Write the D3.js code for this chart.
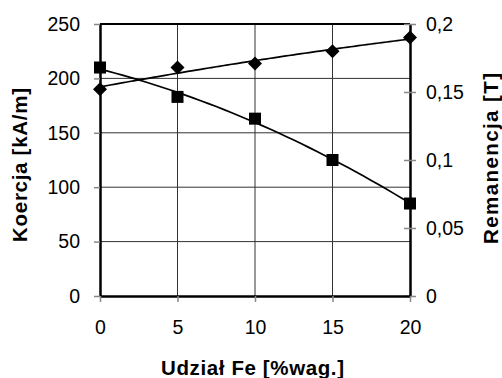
<!DOCTYPE html>
<html>
<head>
<meta charset="utf-8">
<script src="https://cdn.jsdelivr.net/npm/d3@7"></script>
<style>
  html, body { margin: 0; padding: 0; background: #fff; }
  svg { display: block; }
  text { font-family: "Liberation Sans", Arial, sans-serif; fill: #000; }
</style>
</head>
<body>
<svg id="chart" width="502" height="378"></svg>
<script>
// ---- data ----
const udzialFe = [0, 5, 10, 15, 20];
const koercja = [210, 183, 163, 125, 85];            // kA/m (left axis, squares)
const remanencja = [0.152, 0.168, 0.171, 0.180, 0.190]; // T (right axis, diamonds)
const xTicks = [0, 5, 10, 15, 20];
const leftTicks = [0, 50, 100, 150, 200, 250];
const rightTicks = [0, 0.05, 0.1, 0.15, 0.2];
const xTitle = "Udział Fe [%wag.]";
const leftTitle = "Koercja [kA/m]";
const rightTitle = "Remanencja [T]";

// ---- layout ----
const svg = d3.select("#chart");
const L = 100, R = 410, T = 24, B = 296;
const x = d3.scaleLinear().domain([0, 20]).range([L, R]);
const yL = d3.scaleLinear().domain([0, 250]).range([B, T]);
const yR = d3.scaleLinear().domain([0, 0.2]).range([B, T]);

// grid
const grid = svg.append("g");
grid.selectAll("line.h").data(leftTicks.filter(d => d > 0 && d < 250)).join("line")
  .attr("x1", L).attr("x2", R).attr("y1", d => yL(d)).attr("y2", d => yL(d))
  .attr("stroke", "#333").attr("stroke-width", 1);
grid.selectAll("line.v").data(xTicks.filter(d => d > 0 && d < 20)).join("line")
  .attr("y1", T).attr("y2", B).attr("x1", d => x(d)).attr("x2", d => x(d))
  .attr("stroke", "#333").attr("stroke-width", 1);

// top border
svg.append("line").attr("x1", L).attr("x2", R).attr("y1", T).attr("y2", T)
  .attr("stroke", "#000").attr("stroke-width", 2);

function styleAxis(g) {
  g.attr("font-family", null).attr("font-size", null);
  g.select(".domain").attr("stroke", "#000").attr("stroke-width", 2.5);
  g.selectAll(".tick line").attr("stroke", "#888").attr("stroke-width", 1.5);
  g.selectAll(".tick text").style("font-size", "19.5px").style("font-family", "'Liberation Sans', Arial, sans-serif").attr("fill", "#000");
}

const fmtComma = d => String(d).replace(".", ",");

svg.append("g").attr("transform", `translate(${L},0)`)
  .call(d3.axisLeft(yL).tickValues(leftTicks).tickSize(6).tickSizeOuter(0).tickPadding(14))
  .call(styleAxis);

const ra = svg.append("g").attr("transform", `translate(${R},0)`)
  .call(d3.axisRight(yR).tickValues(rightTicks).tickFormat(fmtComma).tickSize(6).tickSizeOuter(0).tickPadding(10))
  .call(styleAxis);
ra.selectAll(".tick line").attr("x1", -6).attr("x2", 6);

svg.append("g").attr("transform", `translate(0,${B})`)
  .call(d3.axisBottom(x).tickValues(xTicks).tickSize(6).tickSizeOuter(0).tickPadding(18.5))
  .call(styleAxis);

// quadratic least-squares trendline (derived from the data)
function quadFit(xs, ys) {
  let S = [[0,0,0],[0,0,0],[0,0,0]], v = [0,0,0];
  xs.forEach((xi, i) => {
    const p = [1, xi, xi*xi];
    for (let a = 0; a < 3; a++) { v[a] += p[a]*ys[i]; for (let b = 0; b < 3; b++) S[a][b] += p[a]*p[b]; }
  });
  const M = S.map((r, i) => [...r, v[i]]);
  for (let c = 0; c < 3; c++) {
    let piv = c; for (let r = c+1; r < 3; r++) if (Math.abs(M[r][c]) > Math.abs(M[piv][c])) piv = r;
    [M[c], M[piv]] = [M[piv], M[c]];
    for (let r = 0; r < 3; r++) if (r !== c) {
      const f = M[r][c] / M[c][c];
      for (let k = c; k < 4; k++) M[r][k] -= f * M[c][k];
    }
  }
  const co = M.map((r, i) => r[3] / r[i]);
  return t => co[0] + co[1]*t + co[2]*t*t;
}

const fK = quadFit(udzialFe, koercja);
const fR = quadFit(udzialFe, remanencja);
const samples = d3.range(0, 20.001, 0.5);

svg.append("path").datum(samples)
  .attr("d", d3.line().x(d => x(d)).y(d => yL(fK(d))).curve(d3.curveMonotoneX))
  .attr("fill", "none").attr("stroke", "#000").attr("stroke-width", 1.7);
svg.append("path").datum(samples)
  .attr("d", d3.line().x(d => x(d)).y(d => yR(fR(d))).curve(d3.curveMonotoneX))
  .attr("fill", "none").attr("stroke", "#000").attr("stroke-width", 1.7);

// markers
svg.append("g").selectAll("rect").data(udzialFe).join("rect")
  .attr("x", (d) => x(d) - 6).attr("y", (d, i) => yL(koercja[i]) - 6)
  .attr("width", 12).attr("height", 12).attr("fill", "#000");
svg.append("g").selectAll("path").data(udzialFe).join("path")
  .attr("d", (d, i) => {
    const cx = x(d), cy = yR(remanencja[i]), r = 7;
    return `M${cx},${cy-r}L${cx+r},${cy}L${cx},${cy+r}L${cx-r},${cy}Z`;
  })
  .attr("fill", "#000");

// titles
svg.append("text").attr("x", 252.5).attr("y", 375).attr("text-anchor", "middle")
  .attr("font-weight", "bold").style("font-size", "20.5px")
  .attr("textLength", 183).attr("lengthAdjust", "spacing").text(xTitle);
svg.append("text").attr("transform", "translate(27,165) rotate(-90)").attr("text-anchor", "middle")
  .attr("font-weight", "bold").style("font-size", "20.5px")
  .attr("textLength", 154).attr("lengthAdjust", "spacing").text(leftTitle);
svg.append("text").attr("transform", "translate(498,158.5) rotate(-90)").attr("text-anchor", "middle")
  .attr("font-weight", "bold").style("font-size", "20.5px")
  .attr("textLength", 171).attr("lengthAdjust", "spacing").text(rightTitle);
</script>
</body>
</html>
